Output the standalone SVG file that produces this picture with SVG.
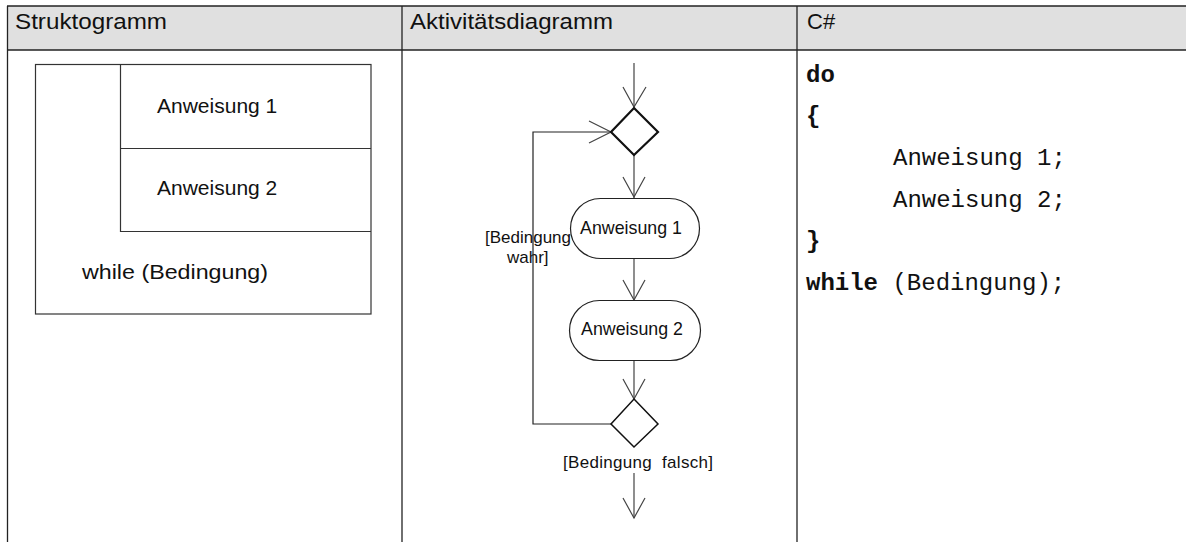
<svg xmlns="http://www.w3.org/2000/svg" width="1186" height="542" viewBox="0 0 1186 542">
  <defs>
    <style>
      .grid { stroke: #222; stroke-width: 1.3; fill: none; }
      .ln { stroke: #444; stroke-width: 1.2; fill: none; }
      .box { stroke: #333; stroke-width: 1.2; fill: none; }
      .act { stroke: #222; stroke-width: 1.2; fill: #fff; }
      .loop { stroke: #222; stroke-width: 1.2; fill: none; }
      .head { font-family: "Liberation Sans", Arial, sans-serif; font-size: 22px; fill: #111; }
      .sans { font-family: "Liberation Sans", Arial, sans-serif; fill: #111; }
      .s21 { font-size: 21px; }
      .s17 { font-size: 17px; }
      .s18 { font-size: 17.8px; }
      .mono { font-family: "Liberation Mono", "Courier New", monospace; font-size: 24px; fill: #111; }
      .b { font-weight: bold; }
    </style>
  </defs>

  <!-- table frame -->
  <g id="table">
    <rect x="7" y="6" width="1179" height="44" fill="#e0e0e0"/>
    <line class="grid" x1="7" y1="6" x2="1186" y2="6"/>
    <line class="grid" x1="7" y1="50" x2="1186" y2="50"/>
    <line class="grid" x1="7.5" y1="6" x2="7.5" y2="542"/>
    <line class="grid" x1="402" y1="6" x2="402" y2="542"/>
    <line class="grid" x1="797" y1="6" x2="797" y2="542"/>
    <text class="head" x="15" y="29" textLength="152" lengthAdjust="spacingAndGlyphs">Struktogramm</text>
    <text class="head" x="410" y="29" textLength="203" lengthAdjust="spacingAndGlyphs">Aktivitätsdiagramm</text>
    <text class="head" x="807" y="29">C#</text>
  </g>

  <!-- Struktogramm: do-while block -->
  <g id="struktogramm">
    <rect class="box" x="35.5" y="64.5" width="335.5" height="249.5"/>
    <polyline class="box" points="120.5,64.5 120.5,231.5 371,231.5"/>
    <line class="box" x1="120.5" y1="148.5" x2="371" y2="148.5"/>
    <text class="sans s21" x="157" y="113">Anweisung 1</text>
    <text class="sans s21" x="157" y="195">Anweisung 2</text>
    <text class="sans s21" x="82" y="279" textLength="186" lengthAdjust="spacingAndGlyphs">while (Bedingung)</text>
  </g>

  <!-- Activity diagram connectors -->
  <g id="connectors">
    <line class="ln" x1="634" y1="63" x2="634" y2="107"/>
    <polyline class="ln" points="623,87 634,107 646,87"/>
    <line class="ln" x1="634" y1="155" x2="634" y2="198"/>
    <polyline class="ln" points="623,177 634,197 645,177"/>
    <line class="ln" x1="634" y1="258" x2="634" y2="300"/>
    <polyline class="ln" points="623,280 634,300 645,280"/>
    <line class="ln" x1="634" y1="360" x2="634" y2="399"/>
    <polyline class="ln" points="623,379 634,399 645,379"/>
    <line class="ln" x1="634" y1="473" x2="634" y2="518"/>
    <polyline class="ln" points="623,498 634,518 645,498"/>
    <polyline class="loop" points="611,424 533,424 533,132 611,132"/>
    <polyline class="ln" points="589,121 611,132 589,143"/>
  </g>

  <g id="decision1">
    <polygon points="634,108 658,132 634,155 611,132" fill="#fff" stroke="#111" stroke-width="2.2"/>
  </g>

  <g id="action1">
    <rect class="act" x="570.5" y="198.5" width="129" height="60" rx="30" ry="30"/>
    <text class="sans s18" x="631" y="234" text-anchor="middle">Anweisung 1</text>
  </g>

  <g id="action2">
    <rect class="act" x="569.5" y="300.5" width="131" height="60" rx="30" ry="30"/>
    <text class="sans s18" x="632" y="335" text-anchor="middle">Anweisung 2</text>
  </g>

  <g id="decision2">
    <polygon points="634,399 658,424 634,447 611,424" fill="#fff" stroke="#111" stroke-width="1.5"/>
  </g>

  <g id="labels">
    <text class="sans s17" x="485" y="243">[Bedingung</text>
    <text class="sans s17" x="507" y="263">wahr]</text>
    <text class="sans s17" x="563" y="468" xml:space="preserve" textLength="150" lengthAdjust="spacing">[Bedingung  falsch]</text>
  </g>

  <!-- C# code -->
  <g id="code">
    <text class="mono b" x="806" y="82">do</text>
    <text class="mono b" x="806" y="123">{</text>
    <text class="mono" x="893" y="165">Anweisung 1;</text>
    <text class="mono" x="893" y="207">Anweisung 2;</text>
    <text class="mono b" x="806" y="248">}</text>
    <text class="mono" x="806" y="290"><tspan class="b">while</tspan> (Bedingung);</text>
  </g>
</svg>
